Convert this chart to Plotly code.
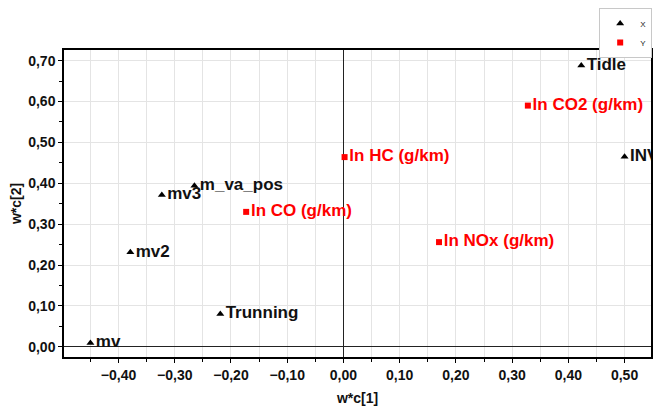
import plotly.graph_objects as go

x_names = ["mv", "mv2", "mv3", "m_va_pos", "Trunning", "Tidle", "INVD"]
x_c1 = [-0.450, -0.379, -0.323, -0.265, -0.219, 0.423, 0.500]
x_c2 = [0.009, 0.231, 0.371, 0.394, 0.080, 0.688, 0.465]

y_names = ["ln CO (g/km)", "ln HC (g/km)", "ln NOx (g/km)", "ln CO2 (g/km)"]
y_c1 = [-0.173, 0.002, 0.170, 0.328]
y_c2 = [0.330, 0.464, 0.256, 0.590]

FONT = "Liberation Sans, Arial, sans-serif"

fig = go.Figure()
fig.add_trace(go.Scatter(
    x=x_c1, y=x_c2, mode="markers+text", name="X", text=x_names,
    textposition="middle right",
    textfont=dict(family=FONT, size=17, color="#111111", weight="bold"),
    marker=dict(symbol="triangle-up", size=7, color="black"),
))
fig.add_trace(go.Scatter(
    x=y_c1, y=y_c2, mode="markers+text", name="Y", text=y_names,
    textposition="middle right",
    textfont=dict(family=FONT, size=17, color="#ff0000", weight="bold"),
    marker=dict(symbol="square", size=6, color="#ff0000"),
))

axis_common = dict(
    showline=True, linecolor="black", linewidth=1.5, mirror=True,
    ticks="outside", ticklen=4, tickcolor="black",
    tickfont=dict(family=FONT, size=14, color="#111111", weight="bold"),
    tickformat=".2f", gridcolor="#e4e4e4", gridwidth=1,
    zeroline=True, zerolinecolor="#222222", zerolinewidth=1,
    automargin=False,
)

fig.update_xaxes(
    range=[-0.497, 0.547], dtick=0.1, tick0=0,
    minor=dict(ticks="outside", dtick=0.05, ticklen=3, tickcolor="black",
               showgrid=True, gridcolor="#e4e4e4"),
    title=dict(text="w*c[1]", font=dict(family=FONT, size=14, color="#111111", weight="bold"), standoff=12),
    **axis_common,
)
fig.update_yaxes(
    range=[-0.025, 0.726], dtick=0.1, tick0=0,
    minor=dict(ticks="outside", dtick=0.05, ticklen=3, tickcolor="black", showgrid=False),
    title=dict(text="w*c[2]", font=dict(family=FONT, size=14, color="#111111", weight="bold"), standoff=6),
    **axis_common,
)

fig.update_layout(
    width=653, height=405,
    margin=dict(l=56, r=10, t=42, b=56, autoexpand=False),
    paper_bgcolor="white", plot_bgcolor="white",
    separators=", ",
    showlegend=True,
    legend=dict(
        x=1.002, xanchor="right", y=1.137, yanchor="top",
        bgcolor="white", bordercolor="#c8c8c8", borderwidth=1,
        font=dict(family=FONT, size=8, color="#222222"),
        itemwidth=30, tracegroupgap=0,
    ),
)

fig.write_html("out.html")
